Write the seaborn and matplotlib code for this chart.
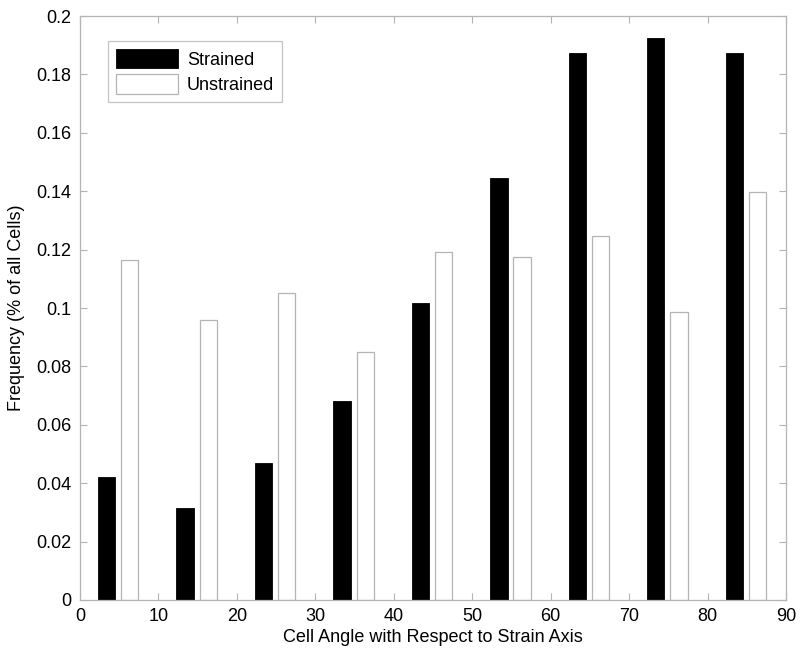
import matplotlib
matplotlib.use("Agg")
import matplotlib.pyplot as plt
import seaborn as sns
import numpy as np

bin_starts = [0, 10, 20, 30, 40, 50, 60, 70, 80]
strained = [0.0421, 0.0315, 0.0468, 0.0680, 0.1016, 0.1446, 0.1872, 0.1926, 0.1872]
unstrained = [0.1164, 0.0959, 0.1051, 0.0849, 0.1191, 0.1176, 0.1245, 0.0987, 0.1397]
x_ticks = [0, 10, 20, 30, 40, 50, 60, 70, 80, 90]
y_ticks = [0, 0.02, 0.04, 0.06, 0.08, 0.1, 0.12, 0.14, 0.16, 0.18, 0.2]
y_ticklabels = ["0", "0.02", "0.04", "0.06", "0.08", "0.1", "0.12", "0.14", "0.16", "0.18", "0.2"]
series_labels = ["Strained", "Unstrained"]

sns.set_style("white")
plt.rcParams['font.family'] = ['Liberation Sans', 'DejaVu Sans']
plt.rcParams['text.color'] = 'black'
plt.rcParams['axes.labelcolor'] = 'black'

fig = plt.figure(figsize=(8, 6.54), dpi=100)
ax = fig.add_axes([0.1, 0.0826, 0.8825, 0.8929])

edge_gray = "#b4b4b4"
xs_s = np.array(bin_starts) + 3.4
xs_u = np.array(bin_starts) + 6.35

sns.barplot(x=xs_s, y=strained, native_scale=True, width=0.22, color="black",
            edgecolor="black", linewidth=0.6, saturation=1, label=series_labels[0], ax=ax)
sns.barplot(x=xs_u, y=unstrained, native_scale=True, width=0.22, color="white",
            edgecolor=edge_gray, linewidth=0.9, saturation=1, label=series_labels[1], ax=ax)

ax.set_xlim(0, 90)
ax.set_ylim(0, 0.2)
ax.set_xticks(x_ticks)
ax.set_xticklabels([str(t) for t in x_ticks])
ax.set_yticks(y_ticks)
ax.set_yticklabels(y_ticklabels)
ax.tick_params(direction="in", length=5, color=edge_gray, labelsize=13, labelcolor="black",
               top=True, right=True, bottom=True, left=True, width=0.8, pad=6)
for sp in ax.spines.values():
    sp.set_color(edge_gray)
    sp.set_linewidth(0.9)
    sp.set_visible(True)

ax.set_xlabel("Cell Angle with Respect to Strain Axis", fontsize=13, labelpad=3, color="black")
ax.set_ylabel("Frequency (% of all Cells)", fontsize=13, labelpad=8, color="black")

leg = ax.legend(loc="upper left", bbox_to_anchor=(0.04, 0.958), fontsize=13,
                frameon=True, fancybox=False, edgecolor=edge_gray, handlelength=3.4,
                handleheight=1.3, borderpad=0.45, labelspacing=0.3, handletextpad=0.5,
                borderaxespad=0)
leg.get_frame().set_linewidth(0.9)
for t in leg.get_texts():
    t.set_color("black")

fig.savefig("out.png", dpi=100)
